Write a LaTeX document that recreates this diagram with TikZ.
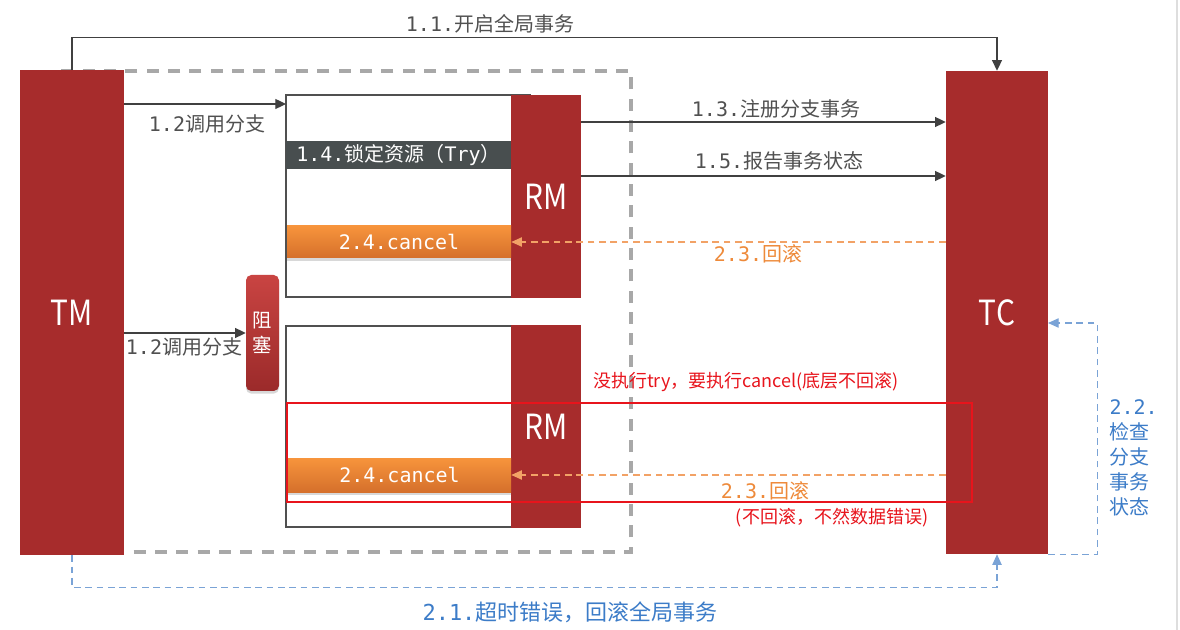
\documentclass[tikz,border=0pt]{standalone}
\usepackage{fontspec}
\setmainfont{Noto Sans CJK SC}
\newfontfamily\mono{DejaVu Sans Mono}
\usetikzlibrary{fit,arrows.meta,shadows,calc}
\definecolor{dred}{HTML}{A72C2C}
\definecolor{barg}{HTML}{484E4F}
\definecolor{org1}{HTML}{F7943C}
\definecolor{org2}{HTML}{D5702B}
\definecolor{orgl}{HTML}{F2A266}
\definecolor{orgt}{HTML}{EE8A3A}
\definecolor{blu}{HTML}{7AA3D6}
\definecolor{blut}{HTML}{3C7CC8}
\definecolor{rd}{HTML}{E8141C}
\definecolor{txtg}{HTML}{505050}
\definecolor{lineg}{HTML}{404040}
\definecolor{dgray}{HTML}{A8A8A8}
\definecolor{zs1}{HTML}{C94442}
\definecolor{zs2}{HTML}{9B2A2A}
\newcommand\labfont{\fontsize{15}{18}\selectfont}
\newcommand\bigfont{\fontsize{26}{30}\selectfont}
\newcommand\redfont{\fontsize{13.5}{16}\selectfont}
\newcommand\narrow[1]{\scalebox{0.86}[1]{#1}}
\tikzset{
  sz/.style 2 args={minimum width=#1*0.75pt, minimum height=#2*0.75pt},
  blk/.style={inner sep=0pt, fill=dred, text=white, font=\bigfont},
  branchbox/.style={inner sep=0pt, draw=txtg, line width=1.2pt, fill=white},
  trybar/.style={inner sep=0pt, fill=barg, text=white, font=\labfont},
  cancelbar/.style={inner sep=0pt, top color=org1, bottom color=org2, text=white, font=\labfont,
     drop shadow={shadow xshift=0pt, shadow yshift=-2pt, opacity=0.3}},
  lab/.style={text=txtg, font=\labfont, inner sep=1pt},
  arr/.style={draw=lineg, line width=0.9pt, -{Triangle[length=8pt,width=7.5pt]}},
  oarr/.style={draw=orgl, line width=0.9pt, dash pattern=on 5pt off 3.5pt, -{Triangle[length=8pt,width=7pt,fill=orgl]}},
  barr/.style={draw=blu, line width=0.9pt, dash pattern=on 5pt off 3.5pt, -{Triangle[length=8pt,width=7pt,fill=blu]}},
}
\begin{document}
\begin{tikzpicture}[x=0.75pt,y=-0.75pt]
\useasboundingbox (0,0) rectangle (1180,630);
\fill[white] (0,0) rectangle (1180,630);
\draw[black!13, line width=0.8pt] (1177,0) -- (1177,630);

% dashed grouping box
\draw[dgray, line width=2.3pt, dash pattern=on 9pt off 7pt] (60,71) rectangle (631,552);

% branch boxes
\node[branchbox, sz={244}{202}] (box1) at (408,196) {};
\node[branchbox, sz={244}{201}] (box2) at (408,426.5) {};

% main blocks
\node[blk, sz={104}{485}] (tm) at (72,312.5) {\narrow{TM}};
\node[blk, sz={102}{483}] (tc) at (997,312.5) {\narrow{TC}};
\node[blk, sz={70}{203}] (rm1) at (546,196.5) {\narrow{RM}};
\node[blk, sz={70}{203}] (rm2) at (546,426.5) {\narrow{RM}};

\node[trybar, sz={225}{28}] (try) at (398.5,155.5) {{\mono 1.4.}锁定资源（{\mono Try}）};
\node[cancelbar, sz={224}{32}] (c1) at (399,242) {\mono 2.4.cancel};
\node[cancelbar, sz={223}{34}] (c2) at (399.5,475) {\mono 2.4.cancel};

\node[inner sep=0pt, rounded corners=4pt, top color=zs1, bottom color=zs2, text=white,
      font=\fontsize{14.5}{18.75}\selectfont, align=center, sz={33}{116},
      drop shadow={shadow xshift=0pt, shadow yshift=-2pt, opacity=0.3}] (zs) at (262.5,333) {阻\\塞};

% 1.1
\draw[arr, line width=0.8pt] (tm.north) -- ++(0,-32) -| (tc.north);
\node[lab] (l11) at (490,24) {{\mono 1.1.}开启全局事务};

% 1.2 upper
\coordinate (p12) at (286,104);
\draw[arr] (tm.east |- p12) -- (p12);
\node[lab] (l12a) at (207,124) {{\mono 1.2}调用分支};

% 1.2 lower
\draw[arr] (tm.east |- zs.west) -- (zs.west);
\node[lab] (l12b) at (184,347) {{\mono 1.2}调用分支};

% 1.3 and 1.5
\coordinate (p13) at (581,122);
\coordinate (p15) at (581,176);
\draw[arr] (p13) -- (tc.west |- p13);
\node[lab] (l13) at (776,109) {{\mono 1.3.}注册分支事务};
\draw[arr] (p15) -- (tc.west |- p15);
\node[lab] (l15) at (779,161) {{\mono 1.5.}报告事务状态};

% 2.3 rollbacks
\draw[oarr] (tc.west |- c1.east) -- (c1.east);
\node[lab, text=orgt] (l23a) at (758,254) {{\mono 2.3.}回滚};
\draw[oarr] (tc.west |- c2.east) -- (c2.east);
\node[lab, text=orgt] (l23b) at (765,491) {{\mono 2.3.}回滚};

% 2.1
\draw[barr] (tm.south) -- ++(0,32) -| (tc.south);
\node[lab, text=blut, font=\fontsize{16.5}{20}\selectfont] (l21) at (570,612) {{\mono 2.1.}超时错误，回滚全局事务};

% 2.2
\coordinate (p22) at (1048,323);
\draw[barr] (tc.south east) -- ++(49,0) |- (p22);
\node[lab, text=blut, anchor=west, align=left, font=\fontsize{15}{18.75}\selectfont] (l22) at (1108,458)
  {{\mono 2.2.}\\检查\\分支\\事务\\状态};

% red annotation
\node[draw=rd, line width=1.3pt, inner sep=0pt, sz={685}{99}] (redbox) at (629.5,452.5) {};
\node[text=rd, font=\redfont, inner sep=0pt] (r1) at (746,382) {没执行try，要执行cancel(底层不回滚)};
\node[text=rd, font=\redfont, inner sep=0pt] (r2) at (832,518) {(不回滚，不然数据错误)};
\end{tikzpicture}
\end{document}
